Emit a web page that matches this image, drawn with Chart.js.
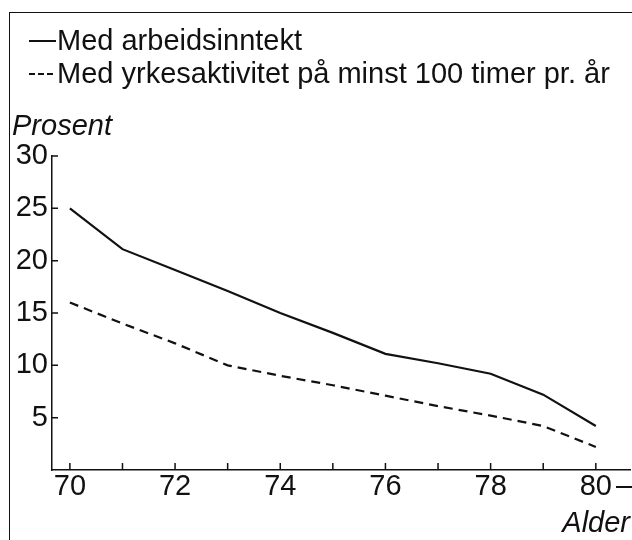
<!DOCTYPE html>
<html>
<head>
<meta charset="utf-8">
<script src="https://cdn.jsdelivr.net/npm/chart.js@4.4.1/dist/chart.umd.min.js"></script>
<style>
    html, body { margin: 0; padding: 0; background: #fff; }
    #wrap { position: relative; width: 632px; height: 540px; overflow: hidden; }
    #frame { position: absolute; left: 9px; top: 12px; width: 640px; height: 540px;
             border-top: 1.5px solid #111; border-left: 1.5px solid #111; }
    canvas { position: absolute; left: 0; top: 0; }
</style>
</head>
<body>
<div id="wrap">
    <div id="frame"></div>
    <canvas id="chart" width="632" height="540"></canvas>
</div>
<script>
// Share of the population (%) by age
const ages = [70, 71, 72, 73, 74, 75, 76, 77, 78, 79, 80];
const withIncome = [25.0, 21.1, 19.1, 17.1, 15.0, 13.1, 11.1, 10.2, 9.2, 7.2, 4.2];
const withActivity = [16.0, 14.0, 12.1, 10.0, 9.0, 8.1, 7.1, 6.1, 5.2, 4.2, 2.2];
const xLabelAges = [70, 72, 74, 76, 78, 80];
const yTickValues = [5, 10, 15, 20, 25, 30];
const seriesNames = ['Med arbeidsinntekt', 'Med yrkesaktivitet på minst 100 timer pr. år'];

const ink = '#111';
const family = '"Liberation Sans", Arial, Helvetica, sans-serif';

// Legend, axis titles and inward tick marks, drawn on top of the chart
const decor = {
    id: 'decor',
    afterDraw(chart)
    {
        const ctx = chart.ctx;
        const area = chart.chartArea;
        const x = chart.scales.x;
        const y = chart.scales.y;

        ctx.save();
        ctx.strokeStyle = ink;
        ctx.fillStyle = ink;
        ctx.lineWidth = 1.5;

        // tick marks point into the plot
        ctx.beginPath();
        x.ticks.forEach((t, i) => {
            const px = x.getPixelForTick(i);
            ctx.moveTo(px, area.bottom);
            ctx.lineTo(px, area.bottom - 7);
        });
        y.ticks.forEach((t, i) => {
            if (t.value <= 0) return;
            const py = y.getPixelForTick(i);
            ctx.moveTo(area.left, py);
            ctx.lineTo(area.left + 6, py);
        });
        ctx.stroke();

        // legend: one row per series
        const rows = [41, 74];
        const dashes = [[], [6, 3]];
        chart.data.datasets.forEach((ds, i) => {
            ctx.beginPath();
            ctx.setLineDash(dashes[i]);
            ctx.lineWidth = 2;
            ctx.moveTo(29, rows[i]);
            ctx.lineTo(56, rows[i]);
            ctx.stroke();
            ctx.setLineDash([]);
            ctx.font = `29px ${family}`;
            ctx.textBaseline = 'middle';
            ctx.textAlign = 'left';
            ctx.fillText(ds.label, 57, rows[i] + 1);
        });

        // axis titles
        ctx.font = `italic 29px ${family}`;
        ctx.textBaseline = 'alphabetic';
        ctx.textAlign = 'left';
        ctx.fillText('Prosent', 12, 135);
        ctx.textAlign = 'right';
        ctx.fillText('Alder', 630, 532);

        // "80 –" : the last age group is open-ended
        ctx.font = `29px ${family}`;
        ctx.textAlign = 'left';
        ctx.fillText('–', 616, 495);

        ctx.restore();
    }
};

new Chart(document.getElementById('chart').getContext('2d'),
{
    type: 'line',
    data: {
        datasets: [
            {
                label: seriesNames[0],
                data: ages.map((a, i) => ({ x: a, y: withIncome[i] })),
                borderColor: ink,
                borderWidth: 2.2,
                pointRadius: 0,
                tension: 0
            },
            {
                label: seriesNames[1],
                data: ages.map((a, i) => ({ x: a, y: withActivity[i] })),
                borderColor: ink,
                borderWidth: 2.2,
                borderDash: [9, 6],
                pointRadius: 0,
                tension: 0
            }
        ]
    },
    options: {
        responsive: false,
        animation: false,
        devicePixelRatio: 1,
        layout: { padding: { top: 156, right: 2, left: 0, bottom: 0 } },
        plugins: {
            legend: { display: false },
            title: { display: false },
            tooltip: { enabled: false }
        },
        scales: {
            x: {
                type: 'linear',
                min: 69.66,
                max: 80.65,
                afterBuildTicks: (scale) => { scale.ticks = ages.map(a => ({ value: a })); },
                afterFit: (scale) => { scale.height = 70; },
                ticks: {
                    color: ink,
                    padding: 0,
                    maxRotation: 0,
                    autoSkip: false,
                    font: { size: 29, family: family },
                    callback: (v) => xLabelAges.includes(v) ? String(v) : ''
                },
                grid: { display: false, drawTicks: false },
                border: { display: true, color: ink, width: 1.5 }
            },
            y: {
                min: 0,
                max: 30,
                afterBuildTicks: (scale) => { scale.ticks = [0].concat(yTickValues).map(v => ({ value: v })); },
                afterFit: (scale) => { scale.width = 52; },
                ticks: {
                    color: ink,
                    padding: 4,
                    font: { size: 29, family: family },
                    callback: (v) => yTickValues.includes(v) ? String(v) : ''
                },
                grid: { display: false, drawTicks: false },
                border: { display: true, color: ink, width: 1.5 }
            }
        }
    },
    plugins: [decor]
});
</script>
</body>
</html>
